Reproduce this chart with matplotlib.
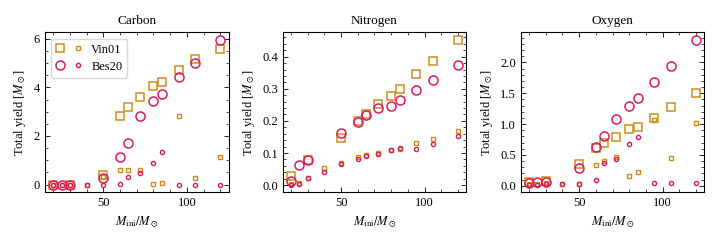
import numpy as np
import matplotlib
matplotlib.use("Agg")
import matplotlib.pyplot as plt
from matplotlib.ticker import AutoMinorLocator, MultipleLocator
from matplotlib.legend_handler import HandlerTuple

plt.rcParams['font.family'] = ['Liberation Serif', 'DejaVu Serif']
plt.rcParams['mathtext.fontset'] = 'stix'
plt.rcParams['font.size'] = 9

nan = np.nan
mass = np.array([20, 25, 30, 40, 50, 60, 65, 72, 80, 85, 95, 105, 120])

# Carbon
c_vin_tot = [0.0, nan, 0.0, nan, 0.38, 2.84, 3.21, 3.61, 4.06, 4.24, 4.70, 5.16, 5.59]
c_vin_sub = [0.0, 0.0, 0.0, 0.0, 0.30, 0.59, 0.58, 0.59, 0.04, 0.05, 2.81, 0.27, 1.15]
c_bes_tot = [0.0, 0.0, 0.0, nan, 0.27, 1.14, 1.70, 2.81, 3.43, 3.72, 4.42, 5.01, 5.97]
c_bes_sub = [0.0, 0.0, 0.0, 0.0, 0.0, 0.03, 0.30, 0.47, 0.88, 1.36, 0.0, 0.0, 0.0]

# Nitrogen
n_vin_tot = [0.027, nan, 0.079, nan, 0.146, 0.200, 0.223, 0.252, 0.279, 0.300, 0.345, 0.386, 0.453]
n_vin_sub = [0.004, 0.007, 0.022, 0.054, 0.069, 0.087, 0.093, 0.099, 0.108, 0.112, 0.130, 0.143, 0.169]
n_bes_tot = [0.013, 0.063, 0.079, nan, 0.162, 0.196, 0.219, 0.239, 0.246, 0.266, 0.297, 0.327, 0.374]
n_bes_sub = [0.002, 0.004, 0.021, 0.042, 0.066, 0.082, 0.090, 0.098, 0.110, 0.116, 0.114, 0.127, 0.152]

# Oxygen
o_vin_tot = [0.054, nan, 0.07, nan, 0.36, 0.61, 0.70, 0.79, 0.92, 0.96, 1.10, 1.28, 1.51]
o_vin_sub = [0.03, 0.03, 0.04, 0.03, 0.03, 0.34, 0.40, 0.46, 0.16, 0.23, 1.07, 0.45, 1.02]
o_bes_tot = [0.05, 0.065, 0.065, nan, 0.28, 0.625, 0.815, 1.076, 1.30, 1.42, 1.68, 1.95, 2.37]
o_bes_sub = [0.02, 0.02, 0.03, 0.03, 0.03, 0.09, 0.375, 0.44, 0.67, 0.79, 0.04, 0.04, 0.04]

titles = ['Carbon', 'Nitrogen', 'Oxygen']
panels = [(c_vin_tot, c_vin_sub, c_bes_tot, c_bes_sub),
          (n_vin_tot, n_vin_sub, n_bes_tot, n_bes_sub),
          (o_vin_tot, o_vin_sub, o_bes_tot, o_bes_sub)]

orange = '#D08B1A'
pink = '#D81B60'

fig = plt.figure(figsize=(7.2, 2.4), dpi=100)
lefts = [0.0625, 0.3926, 0.7232]
for i, (title, data) in enumerate(zip(titles, panels)):
    ax = fig.add_axes([lefts[i], 0.201, 0.255, 0.664])
    vt, vs, bt, bs = data
    h1, = ax.plot(mass, vt, 's', mfc='none', mec=orange, ms=6, mew=1.1, ls='none')
    h2, = ax.plot(mass, vs, 's', mfc='none', mec=orange, ms=3, mew=1.0, ls='none')
    h3, = ax.plot(mass, bt, 'o', mfc='none', mec=pink, ms=6.5, mew=1.1, ls='none')
    h4, = ax.plot(mass, bs, 'o', mfc='none', mec=pink, ms=3, mew=1.0, ls='none')
    ax.set_title(title, fontsize=9.5)
    ax.set_xlabel(r'$M_\mathrm{ini}/M_\odot$')
    ax.set_ylabel(r'Total yield [$M_\odot$]')
    ax.xaxis.set_major_locator(MultipleLocator(50))
    ax.xaxis.set_minor_locator(MultipleLocator(10))
    ax.yaxis.set_minor_locator(AutoMinorLocator())
    ax.tick_params(which='both', direction='in', top=True, right=True)
    ax.tick_params(which='major', length=3.5, width=0.6)
    ax.tick_params(which='minor', length=2, width=0.5)
    for s in ax.spines.values():
        s.set_linewidth(0.8)
    if i == 0:
        ax.legend([(h1, h2), (h3, h4)], ['Vin01', 'Bes20'],
                  handler_map={tuple: HandlerTuple(ndivide=None, pad=0.8)},
                  loc='upper left', fontsize=9, handlelength=2.0,
                  borderpad=0.4, labelspacing=0.4)

fig.savefig('out.png', dpi=100)
